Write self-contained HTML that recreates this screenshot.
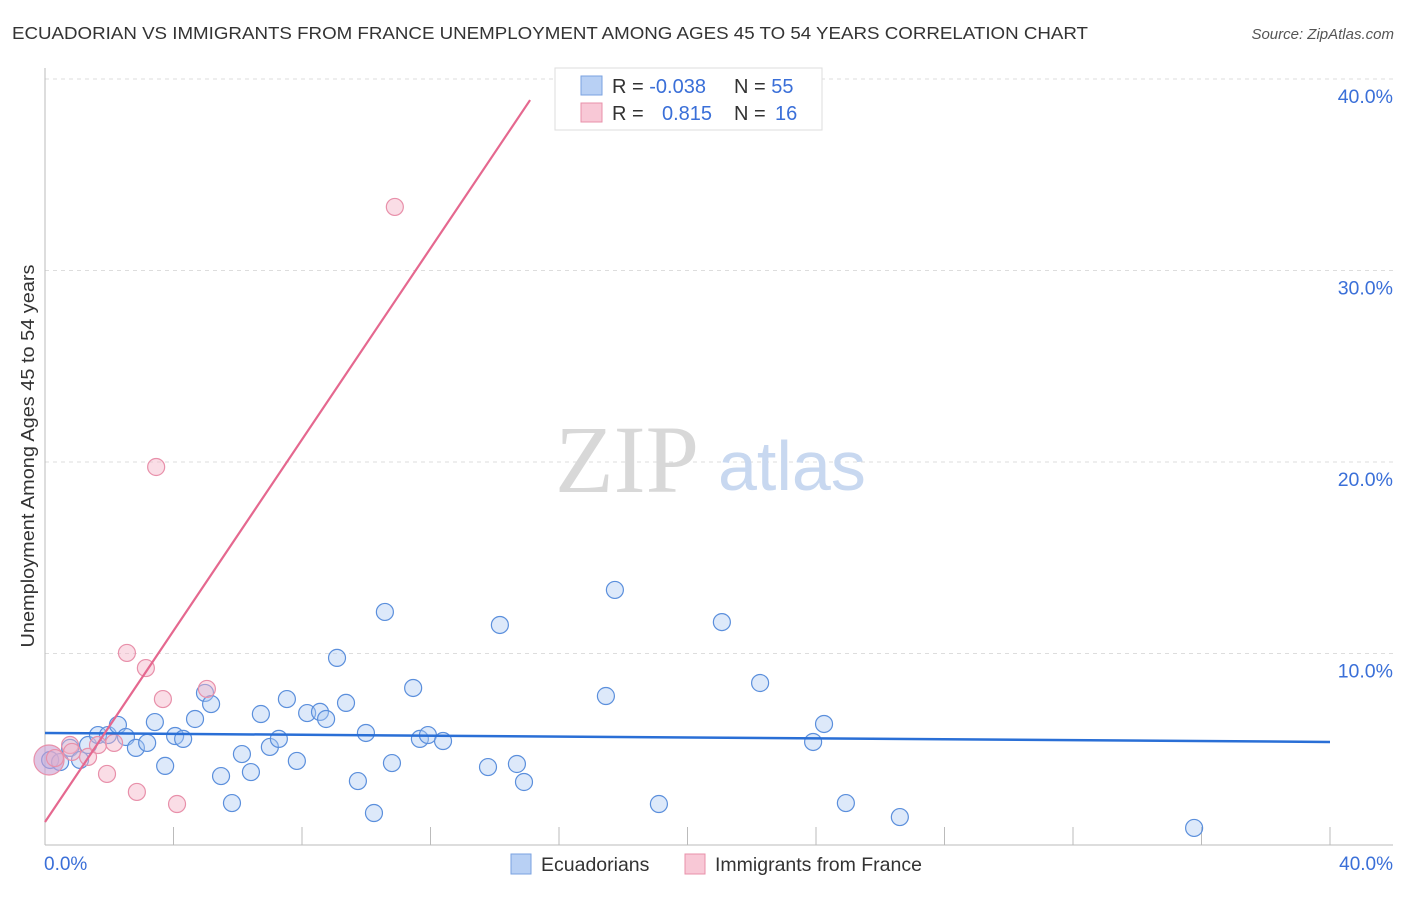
<!DOCTYPE html>
<html><head><meta charset="utf-8"><style>
body{margin:0;background:#fff;font-family:"Liberation Sans",sans-serif}
svg text{font-family:"Liberation Sans",sans-serif}
</style></head><body>
<svg width="1406" height="892" id="chart">
<text x="12" y="39" font-size="17.5" fill="#333" textLength="1076" lengthAdjust="spacingAndGlyphs">ECUADORIAN VS IMMIGRANTS FROM FRANCE UNEMPLOYMENT AMONG AGES 45 TO 54 YEARS CORRELATION CHART</text>
<text x="1394" y="39" font-size="15" fill="#555" font-style="italic" text-anchor="end">Source: ZipAtlas.com</text>
<text transform="translate(34,456) rotate(-90)" font-size="18" fill="#333" text-anchor="middle" textLength="383" lengthAdjust="spacingAndGlyphs">Unemployment Among Ages 45 to 54 years</text>
<g id="grid"></g>
<line x1="45" y1="68" x2="45" y2="845" stroke="#bbb"/>
<line x1="45" y1="845" x2="1393" y2="845" stroke="#bbb"/>
<text x="44" y="870" font-size="19" fill="#3a6fd8">0.0%</text>
<text x="1393" y="870" font-size="19" fill="#3a6fd8" text-anchor="end">40.0%</text>
<text x="555" y="492" font-size="96" fill="#d8d8d8" style="font-family:'Liberation Serif',serif">ZIP</text>
<text x="718" y="490" font-size="70" fill="#c8d8f0">atlas</text>
<g id="marks"></g>
<g>
<rect x="555" y="68" width="267" height="62" fill="#fff" stroke="#ddd"/>
<rect x="581" y="76" width="21" height="19" fill="#b8d0f4" stroke="#7aa2e0"/>
<rect x="581" y="103" width="21" height="19" fill="#f8c8d6" stroke="#e890aa"/>
<text x="612" y="93" font-size="20" fill="#333">R = <tspan fill="#3a6fd8">-0.038</tspan></text>
<text x="734" y="93" font-size="20" fill="#333">N = <tspan fill="#3a6fd8">55</tspan></text>
<text x="612" y="120" font-size="20" fill="#333">R = <tspan fill="#3a6fd8" x="662">0.815</tspan></text>
<text x="734" y="120" font-size="20" fill="#333">N = <tspan fill="#3a6fd8" x="775">16</tspan></text>
</g>
<g>
<rect x="511" y="854" width="20" height="20" fill="#b8d0f4" stroke="#7aa2e0"/>
<text x="541" y="871" font-size="19.5" fill="#333">Ecuadorians</text>
<rect x="685" y="854" width="20" height="20" fill="#f8c8d6" stroke="#e890aa"/>
<text x="715" y="871" font-size="19.5" fill="#333">Immigrants from France</text>
</g>
</svg>
<script>
const yTicks=[10,20,30,40];
const xTickVals=[4,8,12,16,20,24,28,32,36,40];
const blueX=[0.16,0.47,0.78,1.09,1.34,1.65,1.96,2.27,2.52,2.83,3.18,3.42,3.74,4.05,4.30,4.67,4.98,5.17,5.48,5.82,6.13,6.41,6.72,7.00,7.28,7.53,7.84,8.16,8.56,8.75,9.09,9.37,9.74,9.99,10.24,10.58,10.80,11.46,11.67,11.92,12.39,13.79,14.16,14.69,14.91,17.46,17.74,19.11,21.07,22.26,23.91,24.25,24.93,26.61,35.77];
const blueY=[4.44,4.33,5.07,4.44,5.22,5.74,5.74,6.27,5.64,5.07,5.33,6.42,4.13,5.69,5.54,6.58,7.94,7.36,3.60,2.19,4.75,3.81,6.84,5.12,5.54,7.62,4.39,6.89,6.95,6.58,9.77,7.42,3.34,5.85,1.67,12.17,4.28,8.20,5.54,5.74,5.43,4.07,11.49,4.23,3.29,7.78,13.32,2.14,11.64,8.46,5.38,6.32,2.19,1.46,0.89];
const pinkX=[0,0.31,0.78,1.34,1.65,1.93,2.15,2.55,2.86,3.14,3.46,3.67,4.11,5.04,10.89,0.84];
const pinkY=[4.44,4.54,5.22,4.60,5.22,3.71,5.33,10.03,2.77,9.24,19.74,7.62,2.14,8.15,33.32,4.86];
const blueTrend=[5.85,5.38];
const pinkTrend=[1.2,38.9];
const pinkTrendEndX=15.1;
const X=v=>45+v*32.125, Y=v=>845-v*19.15;
const NS='http://www.w3.org/2000/svg';
const grid=document.getElementById('grid'), marks=document.getElementById('marks');
function mk(tag,attrs,parent){const e=document.createElementNS(NS,tag);for(const k in attrs)e.setAttribute(k,attrs[k]);parent.appendChild(e);return e;}
yTicks.forEach(t=>{
  const l=mk('line',{x1:45,x2:1393,y1:Y(t),y2:Y(t),stroke:'#ddd','stroke-dasharray':'4,4'},grid);
  
  
  const tx=mk('text',{x:1393,y:Y(t)+24,'font-size':19.5,fill:'#3a6fd8','text-anchor':'end'},grid);
  tx.textContent=t.toFixed(1)+'%';
  
  
});
xTickVals.forEach(t=>{
  const l=mk('line',{x1:X(t),x2:X(t),y1:827,y2:845,stroke:'#bbb'},grid);
  
  
});
blueX.forEach((v,i)=>{
  const c=mk('circle',{cx:X(v),cy:Y(blueY[i]),r:8.5,fill:'rgba(170,200,242,0.4)',stroke:'#5b8fdc','stroke-width':1.2},marks);
  
  
});
pinkX.forEach((v,i)=>{
  const c=mk('circle',{cx:X(v)+(i===0?4:0),cy:Y(pinkY[i]),r:i===0?15:8.5,fill:i===0?'rgba(200,160,210,0.6)':'rgba(245,180,200,0.45)',stroke:'#e890aa','stroke-width':1.2},marks);
  
  
});
const bl=mk('line',{x1:X(0),y1:Y(blueTrend[0]),x2:X(40),y2:Y(blueTrend[1]),stroke:'#2a6fd6','stroke-width':2.5},marks);


const pl=mk('line',{x1:X(0),y1:Y(pinkTrend[0]),x2:X(pinkTrendEndX),y2:Y(pinkTrend[1]),stroke:'#e5688f','stroke-width':2.2},marks);


</script>
</body></html>
